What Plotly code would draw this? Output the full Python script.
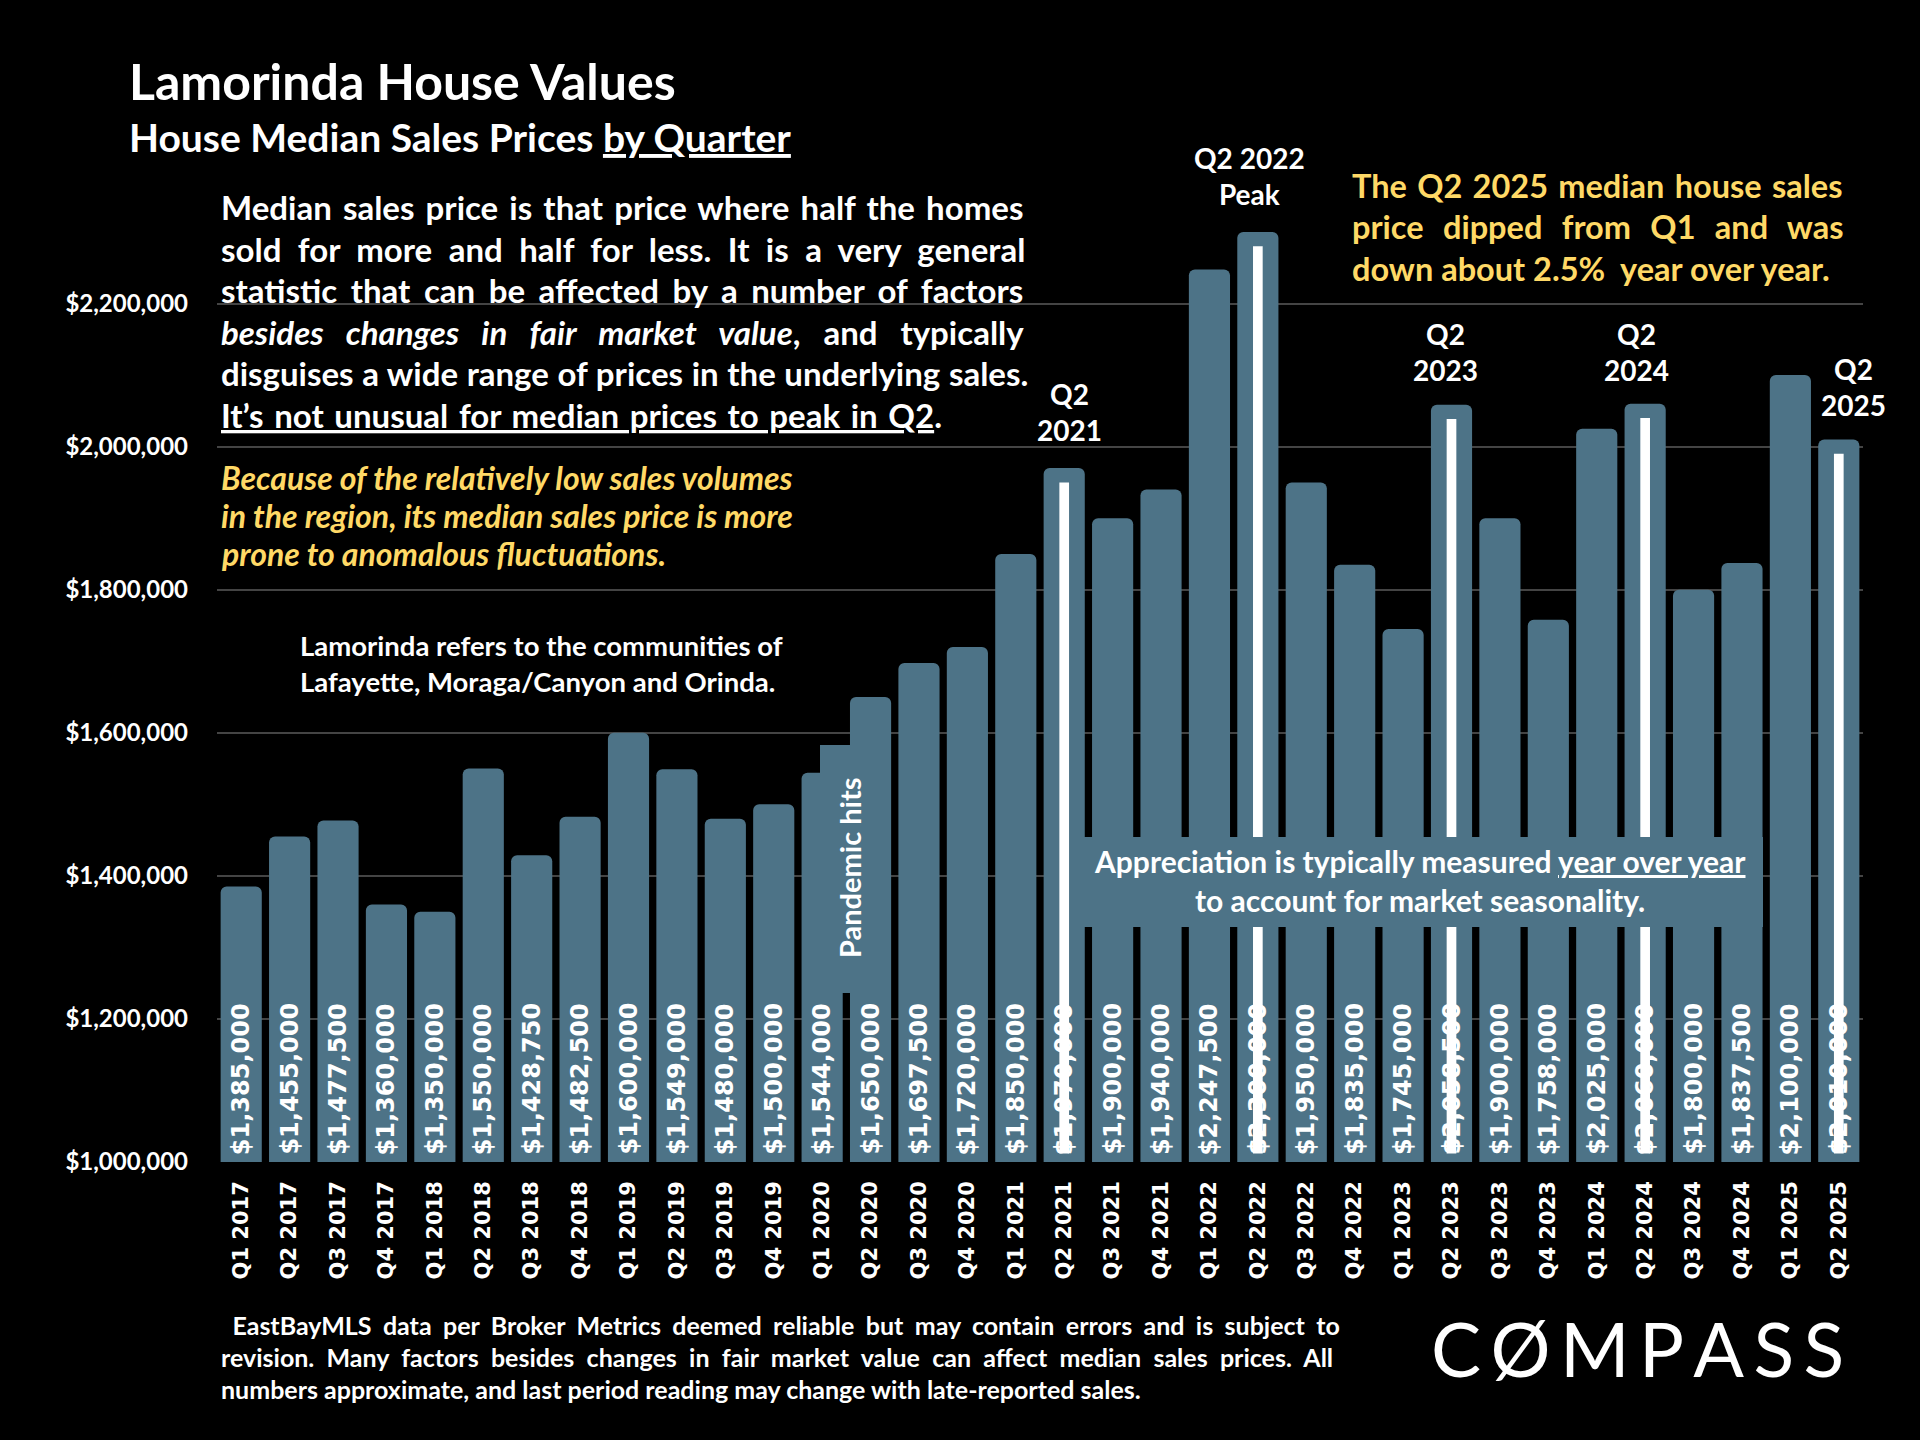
import plotly.graph_objects as go

quarters = ["Q1 2017", "Q2 2017", "Q3 2017", "Q4 2017",
            "Q1 2018", "Q2 2018", "Q3 2018", "Q4 2018",
            "Q1 2019", "Q2 2019", "Q3 2019", "Q4 2019",
            "Q1 2020", "Q2 2020", "Q3 2020", "Q4 2020",
            "Q1 2021", "Q2 2021", "Q3 2021", "Q4 2021",
            "Q1 2022", "Q2 2022", "Q3 2022", "Q4 2022",
            "Q1 2023", "Q2 2023", "Q3 2023", "Q4 2023",
            "Q1 2024", "Q2 2024", "Q3 2024", "Q4 2024",
            "Q1 2025", "Q2 2025"]
prices = [1385000, 1455000, 1477500, 1360000,
          1350000, 1550000, 1428750, 1482500,
          1600000, 1549000, 1480000, 1500000,
          1544000, 1650000, 1697500, 1720000,
          1850000, 1970000, 1900000, 1940000,
          2247500, 2300000, 1950000, 1835000,
          1745000, 2058500, 1900000, 1758000,
          2025000, 2060000, 1800000, 1837500,
          2100000, 2010000]
highlight_q2 = ["Q2 2021", "Q2 2022", "Q2 2023", "Q2 2024", "Q2 2025"]
y_ticks = [1000000, 1200000, 1400000, 1600000, 1800000, 2000000, 2200000]

BAR = "#4D7387"
YEL = "#FFD966"
LATO = "Lato"
VERD = "DejaVu Sans"

# plot area in pixels
L, R, T, B = 217, 1863, 197, 1162
W, H = R - L, B - T
Y0 = 1000000
Y1 = Y0 + (B - T) / 143.07 * 200000


def px(xp):
    return (xp - L) / W


def py(yp):
    return (B - yp) / H


def txt(text, xp, yp, size, color="white", weight="bold", style="normal",
        xanchor="left", family=LATO, angle=0):
    return dict(text=text, x=px(xp), y=py(yp), xref="paper", yref="paper",
                xanchor=xanchor, yanchor="middle", showarrow=False,
                textangle=angle,
                font=dict(family=family, size=size, color=color,
                          weight=weight, style=style))


def ws(text, spacing):
    # emulate justified text by widening the word gaps
    if not spacing:
        return text
    return "<span style='word-spacing:%.1fpx'>%s</span>" % (spacing, text)


U = "<span style='text-decoration:underline'>"

fig = go.Figure()
fig.add_trace(go.Bar(
    x=quarters, y=prices, width=0.85,
    marker=dict(color=BAR, cornerradius=6, line=dict(width=0)),
    hoverinfo="skip"))

hx = [q for q in quarters if q in highlight_q2]
hv = [prices[quarters.index(q)] for q in hx]
base_w = 1012000
fig.add_trace(go.Bar(
    x=hx, y=[v - 20000 - base_w for v in hv], base=base_w, width=0.2,
    marker=dict(color="white", line=dict(width=0)), hoverinfo="skip"))

ann = []
# value labels inside the bars (rotated, at the base)
for q, v in zip(quarters, prices):
    ann.append(dict(text="${:,.0f}".format(v), x=q, y=Y0, xref="x", yref="y",
                    xanchor="center", yanchor="bottom", yshift=5,
                    textangle=-90, showarrow=False,
                    font=dict(family=VERD, size=24, color="white", weight="bold")))

ann.append(txt("Lamorinda House Values", 127, 81, 50))
ann.append(txt("House Median Sales Prices " + U + "by Quarter</span>", 127, 137, 39))

para = [
    ("Median sales price is that price where half the homes", 3.1),
    ("sold for more and half for less. It is a very general", 8.4),
    ("statistic that can be affected by a number of factors", 5.5),
    ("<i>besides changes in fair market value</i>, and typically", 14.9),
    ("disguises a wide range of prices in the underlying sales.", 0.6),
    (U + "It\u2019s not unusual for median prices to peak in Q2</span>.", 2.6),
]
for i, (line, sp) in enumerate(para):
    ann.append(txt(ws(line, sp), 219, 207 + i * 41.6, 33))

yel = ["Because of the relatively low sales volumes",
       "in the region, its median sales price is more",
       "prone to anomalous fluctuations."]
for i, line in enumerate(yel):
    ann.append(txt(line, 219, 478 + i * 37.8, 32, color=YEL, style="italic"))

ann.append(txt("Lamorinda refers to the communities of", 298, 645, 27.5))
ann.append(txt("Lafayette, Moraga/Canyon and Orinda.", 298, 681, 27.5))

tr = [("The Q2 2025 median house sales", 2.4),
      ("price dipped from Q1 and was", 11.5),
      ("down about 2.5%  year over year.", 0)]
for i, (line, sp) in enumerate(tr):
    ann.append(txt(ws(line, sp), 1350, 185 + i * 41.6, 32.5, color=YEL))

ann.append(txt("Q2<br>2021", 1069, 412, 28, xanchor="center"))
ann.append(txt("Q2 2022<br>Peak", 1249, 176, 28, xanchor="center"))
ann.append(txt("Q2<br>2023", 1445, 352, 28, xanchor="center"))
ann.append(txt("Q2<br>2024", 1636, 352, 28, xanchor="center"))
ann.append(txt("Q2<br>2025", 1853, 387, 28, xanchor="center"))

ann.append(txt("Appreciation is typically measured " + U + "year over year</span>",
               1420, 861, 30, xanchor="center"))
ann.append(txt("to account for market seasonality.", 1420, 900, 30, xanchor="center"))

ann.append(txt("Pandemic hits", 849, 868, 29, xanchor="center", angle=-90))

foot = [(" EastBayMLS data per Broker Metrics deemed reliable but may contain errors and is subject to", 5.3),
        ("revision. Many factors besides changes in fair market value can affect median sales prices. All", 6.2),
        ("numbers approximate, and last period reading may change with late-reported sales.", 0)]
for i, (line, sp) in enumerate(foot):
    ann.append(txt(ws(line, sp), 219, 1325 + i * 32, 25))

ann.append(txt("C\u2009\u00d8\u2009M\u2009P\u2009A\u2009S\u2009S", 1637, 1348, 75,
               weight=400, xanchor="center"))

shapes = [
    # black backing behind main paragraph (hides gridlines)
    dict(type="rect", xref="paper", yref="paper", x0=px(214), x1=px(1045),
         y0=py(435), y1=py(184), fillcolor="black", line=dict(width=0),
         layer="between"),
    # pandemic callout box
    dict(type="rect", xref="paper", yref="paper", x0=px(820), x1=px(880),
         y0=py(993), y1=py(745), fillcolor=BAR, line=dict(width=0), layer="above"),
    # appreciation box
    dict(type="rect", xref="paper", yref="paper", x0=px(1070), x1=px(1763),
         y0=py(927), y1=py(837), fillcolor=BAR, line=dict(width=0), layer="above"),
]

fig.update_layout(
    width=1920, height=1440, autosize=False,
    paper_bgcolor="black", plot_bgcolor="black",
    margin=dict(l=L, r=1920 - R, t=T, b=1440 - B, pad=0),
    barmode="overlay", showlegend=False,
    annotations=ann, shapes=shapes,
    xaxis=dict(type="category", categoryorder="array", categoryarray=quarters,
               tickangle=-90, showgrid=False, showline=False, zeroline=False,
               ticks="", ticklabelstandoff=14,
               tickfont=dict(family=VERD, size=21, color="white", weight="bold"),
               range=[-0.5, len(quarters) - 0.5]),
    yaxis=dict(range=[Y0, Y1], tickvals=y_ticks, tickformat="$,.0f",
               showgrid=True, gridcolor="#444444", gridwidth=2,
               zeroline=False, showline=False, ticks="", ticklabelstandoff=28,
               tickfont=dict(family=LATO, size=24, color="white", weight="bold")),
)

fig.write_html("out.html", config={"displayModeBar": False}, post_script=[
    "document.body.style.margin='0px';document.body.style.overflow='hidden';"
    "document.documentElement.style.background='black';"])
